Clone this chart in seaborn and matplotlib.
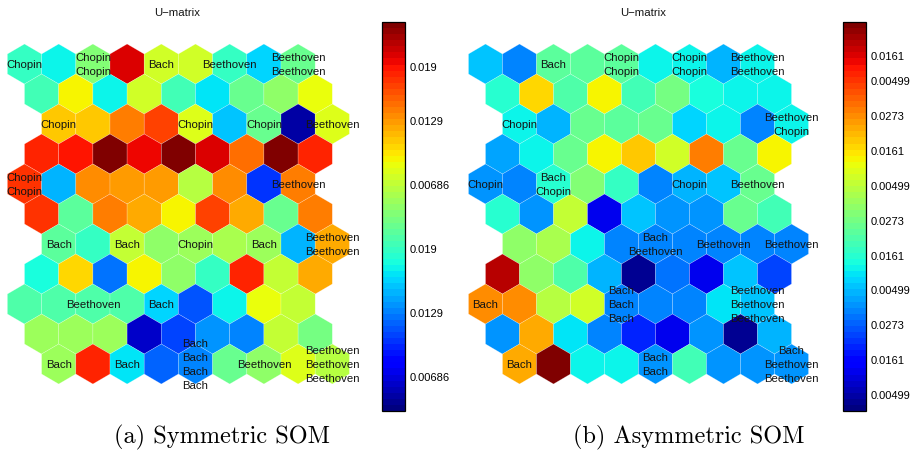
import numpy as np
import matplotlib
matplotlib.use("Agg")
import matplotlib.pyplot as plt
import matplotlib as mpl
import seaborn as sns
from matplotlib.collections import PolyCollection
from matplotlib.transforms import ScaledTranslation

# ---------------- data ----------------
# U-matrix cells (colour level on the 0..1 colour scale), 11 rows x 9 cells
sym_umat = [
    [0.42, 0.37, 0.50, 0.91, 0.60, 0.60, 0.42, 0.33, 0.48],
    [0.43, 0.65, 0.36, 0.60, 0.43, 0.35, 0.47, 0.52, 0.63],
    [0.69, 0.69, 0.77, 0.83, 0.61, 0.32, 0.47, 0.04, 0.62],
    [0.86, 0.89, 0.99, 0.90, 0.99, 0.92, 0.79, 0.99, 0.87],
    [0.85, 0.31, 0.75, 0.74, 0.74, 0.57, 0.76, 0.18, 0.78],
    [0.85, 0.46, 0.77, 0.72, 0.65, 0.83, 0.72, 0.47, 0.78],
    [0.46, 0.42, 0.58, 0.53, 0.54, 0.55, 0.54, 0.31, 0.72],
    [0.38, 0.68, 0.24, 0.65, 0.53, 0.42, 0.87, 0.58, 0.73],
    [0.45, 0.45, 0.45, 0.45, 0.34, 0.21, 0.36, 0.63, 0.59],
    [0.54, 0.54, 0.54, 0.07, 0.20, 0.28, 0.26, 0.59, 0.49],
    [0.54, 0.87, 0.35, 0.22, 0.26, 0.47, 0.53, 0.62, 0.57],
]
asym_umat = [
    [0.32, 0.26, 0.46, 0.46, 0.46, 0.36, 0.36, 0.31, 0.36],
    [0.40, 0.68, 0.44, 0.65, 0.43, 0.49, 0.39, 0.37, 0.36],
    [0.37, 0.31, 0.47, 0.46, 0.47, 0.33, 0.37, 0.26, 0.36],
    [0.29, 0.37, 0.47, 0.65, 0.69, 0.60, 0.77, 0.48, 0.65],
    [0.28, 0.26, 0.40, 0.51, 0.42, 0.26, 0.31, 0.32, 0.47],
    [0.40, 0.28, 0.58, 0.10, 0.32, 0.27, 0.27, 0.48, 0.43],
    [0.53, 0.56, 0.37, 0.26, 0.26, 0.26, 0.26, 0.26, 0.25],
    [0.94, 0.53, 0.45, 0.30, 0.03, 0.24, 0.10, 0.32, 0.19],
    [0.75, 0.75, 0.57, 0.60, 0.26, 0.25, 0.25, 0.35, 0.32],
    [0.28, 0.72, 0.35, 0.26, 0.17, 0.10, 0.28, 0.02, 0.30],
    [0.72, 1.00, 0.36, 0.36, 0.27, 0.43, 0.27, 0.27, 0.28],
]

# (row, cell, label)
sym_labels = [
    (0, 0, "Chopin"), (0, 2, "Chopin\nChopin"), (0, 4, "Bach"), (0, 6, "Beethoven"),
    (0, 8, "Beethoven\nBeethoven"),
    (2, 0, "Chopin"), (2, 4, "Chopin"), (2, 6, "Chopin"), (2, 8, "Beethoven"),
    (4, 0, "Chopin\nChopin"), (4, 8, "Beethoven"),
    (6, 0, "Bach"), (6, 2, "Bach"), (6, 4, "Chopin"), (6, 6, "Bach"),
    (6, 8, "Beethoven\nBeethoven"),
    (8, 2, "Beethoven"), (8, 4, "Bach"),
    (10, 0, "Bach"), (10, 2, "Bach"), (10, 4, "Bach\nBach\nBach\nBach"),
    (10, 6, "Beethoven"), (10, 8, "Beethoven\nBeethoven\nBeethoven"),
]
asym_labels = [
    (0, 2, "Bach"), (0, 4, "Chopin\nChopin"), (0, 6, "Chopin\nChopin"),
    (0, 8, "Beethoven\nBeethoven"),
    (2, 0, "Chopin"), (2, 8, "Beethoven\nChopin"),
    (4, 0, "Chopin"), (4, 2, "Bach\nChopin"), (4, 6, "Chopin"), (4, 8, "Beethoven"),
    (6, 4, "Bach\nBeethoven"), (6, 6, "Beethoven"), (6, 8, "Beethoven"),
    (8, 0, "Bach"), (8, 4, "Bach\nBach\nBach"), (8, 8, "Beethoven\nBeethoven\nBeethoven"),
    (10, 0, "Bach"), (10, 4, "Bach\nBach"), (10, 8, "Bach\nBeethoven\nBeethoven"),
]

sym_cbar_ticks = [0.091, 0.255, 0.419, 0.583, 0.747, 0.911]
sym_cbar_labels = ["0.00686", "0.0129", "0.019", "0.00686", "0.0129", "0.019"]
asym_cbar_ticks = [0.044, 0.134, 0.223, 0.313, 0.402, 0.492, 0.581, 0.671, 0.760, 0.850, 0.939]
asym_cbar_labels = ["0.00499", "0.0161", "0.0273", "0.00499", "0.0161", "0.0273",
                    "0.00499", "0.0161", "0.0273", "0.00499", "0.0161"]

titles = ["U\u2212matrix", "U\u2212matrix"]
captions = ["(a) Symmetric SOM", "(b) Asymmetric SOM"]

# ---------------- style ----------------
sns.set_theme(style="white")
plt.rcParams["font.family"] = ["Liberation Sans", "DejaVu Sans"]
cmap = mpl.colormaps["jet"].resampled(64)
norm = mpl.colors.Normalize(0, 1)

W, H = 916, 452
fig = plt.figure(figsize=(W / 100, H / 100), dpi=100)
fig.patch.set_facecolor("white")

ROW_OFFSET = [0.0, 0.5, 1.0, 0.5]
HEX = np.array([(0, -2 / 3), (0.5, -1 / 3), (0.5, 1 / 3), (0, 2 / 3), (-0.5, 1 / 3), (-0.5, -1 / 3)])


def px_axes(x0, y0, x1, y1):
    return fig.add_axes([x0 / W, 1 - y1 / H, (x1 - x0) / W, (y1 - y0) / H])


def draw_panel(umat, labels, ax_px, x_org, dx, cbar_px, ticks, ticklabels, title, title_x, caption, cap_x):
    x0, y0, x1, y1 = ax_px
    ax = px_axes(x0, y0, x1, y1)
    verts, vals = [], []
    for r, row in enumerate(umat):
        for j, v in enumerate(row):
            cx = j + ROW_OFFSET[r % 4]
            verts.append(HEX + [cx, r])
            vals.append(v)
    pc = PolyCollection(verts, array=np.array(vals), cmap=cmap, norm=norm,
                        edgecolors=(1, 1, 1, 0.35), linewidths=0.4)
    ax.add_collection(pc)
    for r, j, txt in labels:
        ax.text(j + ROW_OFFSET[r % 4], r, txt, ha="center", va="center",
                fontsize=8.2, color="#141414", linespacing=1.5)
    # pixel mapping: x_px = x_org + dx * x ; y_px = 65 + 30 * row
    ax.set_xlim((x0 - x_org) / dx, (x1 - x_org) / dx)
    ax.set_ylim((y1 - 65) / 30, (y0 - 65) / 30)
    ax.axis("off")

    cx0, cy0, cx1, cy1 = cbar_px
    cax = px_axes(cx0, cy0, cx1, cy1)
    sm = mpl.cm.ScalarMappable(norm=norm, cmap=cmap)
    cb = fig.colorbar(sm, cax=cax)
    cb.outline.set_edgecolor("black")
    cb.outline.set_linewidth(0.9)
    cax.yaxis.set_ticks_position("both")
    cb.set_ticks(ticks)
    cb.set_ticklabels(ticklabels)
    cax.tick_params(axis="y", direction="in", length=3.5, width=0.7, colors="black",
                    left=True, right=True, labelleft=False, labelright=True,
                    labelsize=8, pad=3.5)
    top = cax.yaxis.get_major_ticks()[-1]
    top.label2.set_transform(top.label2.get_transform()
                             + ScaledTranslation(0, -9 / 100, fig.dpi_scale_trans))

    fig.text(title_x / W, 1 - 12.5 / H, title, ha="center", va="center", fontsize=8.2, color="#141414")
    fig.text(cap_x / W, 1 - 437.5 / H, caption, ha="center", va="center", fontsize=17.5,
             family=["cmr10", "DejaVu Serif"], color="black")


draw_panel(sym_umat, sym_labels, (0, 30, 355, 410), 24.5, 34.2,
           (382, 23, 405, 412), sym_cbar_ticks, sym_cbar_labels,
           titles[0], 177, captions[0], 222)
draw_panel(asym_umat, asym_labels, (458, 30, 832, 410), 485.5, 34.0,
           (843, 23, 866, 412), asym_cbar_ticks, asym_cbar_labels,
           titles[1], 643, captions[1], 689)

fig.savefig("out.png", dpi=100, facecolor="white")
